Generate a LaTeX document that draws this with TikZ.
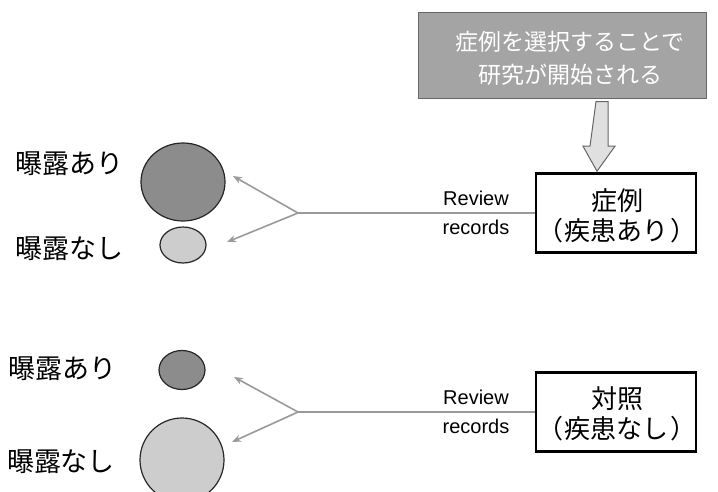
\documentclass[tikz,border=0pt]{standalone}
\usepackage{fontspec}
\setmainfont{Liberation Sans}
\newfontfamily\jp{Noto Sans CJK JP}
\usetikzlibrary{arrows.meta,shapes.geometric,calc}
\definecolor{linegray}{HTML}{9A9A9A}
\definecolor{boxgray}{HTML}{A4A4A4}
\definecolor{darkfill}{HTML}{8C8C8C}
\definecolor{lightfill}{HTML}{CDCDCD}
\newcommand{\lp}{（\kern1.5pt}
\newcommand{\rp}{\kern1.5pt）}
\tikzset{
  casebox/.style={draw=black, line width=2.6pt, minimum width=160pt, minimum height=79pt, inner sep=0pt},
  boxtext/.style={align=center, font=\jp\fontsize{26}{30}\selectfont, inner sep=0pt},
  expo/.style={ellipse, draw=black!85, line width=1.2pt, inner sep=0pt},
  lbl/.style={font=\jp\fontsize{27}{30}\selectfont, inner sep=0pt},
  rev/.style={font=\fontsize{20}{29}\selectfont, align=center, inner sep=0pt},
  conn/.style={draw=linegray, line width=1.6pt},
  tipconn/.style={conn, -{Stealth[open, length=9pt, width=7pt]}},
}
\begin{document}
\begin{tikzpicture}[x=1pt,y=-1pt]
\useasboundingbox (0,0) rectangle (718,491);
% top gray box
\node (start) [draw=black!60, fill=boxgray, line width=1pt, minimum width=288pt, minimum height=86pt, inner sep=0pt] at (562,55) {};
\node (starttext) [align=center, inner sep=0pt, text=white, font=\jp\fontsize{23}{33}\selectfont] at (570,58) {症例を選択することで\\研究が開始される};
% boxes
\node (case) [casebox] at (616,213) {};
\node (casetext) [boxtext] at (617,216) {症例\\\lp 疾患あり\rp};
\node (ctrl) [casebox] at (616,412) {};
\node (ctrltext) [boxtext] at (617,414) {対照\\\lp 疾患なし\rp};
% hollow arrow from start to case
\draw[draw=black!60, fill=black!12, line width=1pt]
  ($(start.south -| case.north)+(-20,3)$) -- ++(12,0) -- ($(case.north)+(-8,-26)$) -- ++(7,0)
  -- ($(case.north)+(-19,-1)$) -- ++(-14,-25) -- ++(7,0) -- cycle;
% ellipses
\node (e1) [expo, fill=darkfill, minimum width=84pt, minimum height=78pt] at (183,182) {};
\node (e2) [expo, fill=lightfill, minimum width=46pt, minimum height=36pt] at (183,245) {};
\node (e3) [expo, fill=darkfill, minimum width=46pt, minimum height=39pt] at (182,370) {};
\node (e4) [expo, fill=lightfill, minimum width=84pt, minimum height=84pt] at (182,460) {};
% labels
\node (l1) [lbl] at (70,164) {曝露あり};
\node (l2) [lbl] at (70,249) {曝露なし};
\node (l3) [lbl] at (63,369) {曝露あり};
\node (l4) [lbl] at (61,462) {曝露なし};
% review labels
\node (r1) [rev] at (476,213) {Review\\records};
\node (r2) [rev] at (476,412) {Review\\records};
% connectors
\coordinate (j1) at (298,213);
\coordinate (t1) at (233,176);
\coordinate (t2) at (227,242);
\draw[conn] (case.west) -- (j1);
\draw[tipconn] (j1) -- (t1);
\draw[tipconn] (j1) -- (t2);
\coordinate (j2) at (298,412);
\coordinate (t3) at (234,377);
\coordinate (t4) at (232,442);
\draw[conn] (ctrl.west) -- (j2);
\draw[tipconn] (j2) -- (t3);
\draw[tipconn] (j2) -- (t4);
\end{tikzpicture}
\end{document}
